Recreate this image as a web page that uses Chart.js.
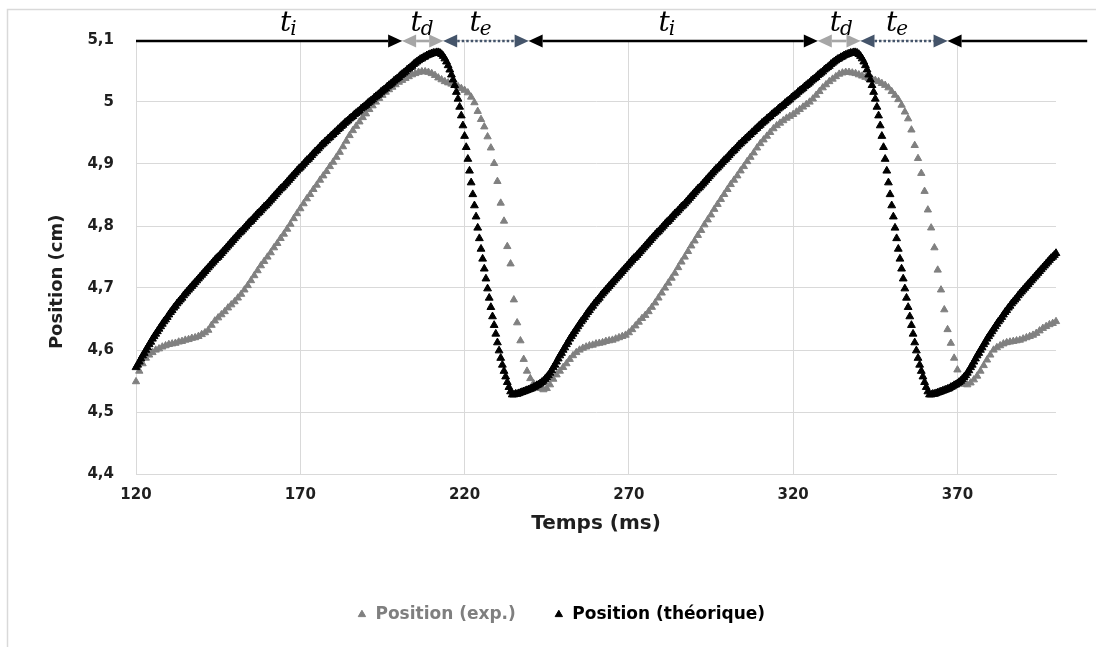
<!DOCTYPE html>
<html>
<head>
<meta charset="utf-8">
<title>Position</title>
<script src="https://cdn.jsdelivr.net/npm/chart.js@4/dist/chart.umd.min.js"></script>
<style>
	html, body { margin: 0; padding: 0; background: #fff; overflow: hidden; }
	canvas { display: block; }
</style>
</head>
<body>
<canvas id="posChart" width="1096" height="647"></canvas>
<script>
"use strict";

// axis ticks and titles
const xTicks = [120, 170, 220, 270, 320, 370];
const yTicks = [4.4, 4.5, 4.6, 4.7, 4.8, 4.9, 5.0, 5.1];
const yTickLabels = ["4,4", "4,5", "4,6", "4,7", "4,8", "4,9", "5", "5,1"];
const xTitle = "Temps (ms)";
const yTitle = "Position (cm)";
const seriesNames = ["Position (exp.)", "Position (théorique)"];

// experimental position, one sample per ms from 120 ms
const expStart = 120;
const expStep = 1;
const expPos = [
	4.549, 4.566, 4.578, 4.587, 4.592, 4.596, 4.600, 4.602, 4.605, 4.607,
	4.609, 4.610, 4.611, 4.613, 4.614, 4.616, 4.617, 4.619, 4.620, 4.622,
	4.625, 4.628, 4.632, 4.640, 4.647, 4.652, 4.657, 4.662, 4.668, 4.673,
	4.678, 4.684, 4.690, 4.697, 4.704, 4.712, 4.720, 4.728, 4.736, 4.743,
	4.750, 4.757, 4.765, 4.772, 4.780, 4.787, 4.795, 4.803, 4.812, 4.820,
	4.828, 4.836, 4.844, 4.851, 4.859, 4.866, 4.874, 4.881, 4.888, 4.896,
	4.903, 4.911, 4.919, 4.928, 4.937, 4.946, 4.954, 4.961, 4.968, 4.975,
	4.981, 4.988, 4.994, 5.000, 5.006, 5.011, 5.016, 5.020, 5.024, 5.028,
	5.032, 5.035, 5.038, 5.041, 5.044, 5.046, 5.048, 5.049, 5.049, 5.048,
	5.046, 5.043, 5.039, 5.036, 5.033, 5.031, 5.029, 5.027, 5.025, 5.022,
	5.019, 5.015, 5.008, 4.999, 4.985, 4.972, 4.960, 4.944, 4.926, 4.901,
	4.872, 4.837, 4.808, 4.767, 4.739, 4.681, 4.644, 4.615, 4.585, 4.566,
	4.554, 4.546, 4.541, 4.538, 4.536, 4.538, 4.544, 4.553, 4.560, 4.566,
	4.572, 4.578, 4.585, 4.591, 4.596, 4.600, 4.603, 4.605, 4.607, 4.608,
	4.610, 4.611, 4.612, 4.614, 4.615, 4.616, 4.618, 4.620, 4.622, 4.624,
	4.628, 4.633, 4.639, 4.645, 4.651, 4.656, 4.662, 4.669, 4.676, 4.684,
	4.692, 4.700, 4.708, 4.716, 4.724, 4.733, 4.742, 4.750, 4.759, 4.768,
	4.776, 4.785, 4.793, 4.802, 4.810, 4.818, 4.827, 4.835, 4.843, 4.851,
	4.859, 4.867, 4.874, 4.881, 4.889, 4.896, 4.904, 4.911, 4.918, 4.926,
	4.933, 4.939, 4.945, 4.951, 4.957, 4.962, 4.966, 4.970, 4.974, 4.977,
	4.980, 4.984, 4.988, 4.992, 4.996, 5.000, 5.005, 5.011, 5.017, 5.023,
	5.028, 5.033, 5.037, 5.041, 5.045, 5.047, 5.048, 5.048, 5.047, 5.046,
	5.044, 5.042, 5.040, 5.038, 5.037, 5.035, 5.033, 5.030, 5.027, 5.023,
	5.017, 5.011, 5.004, 4.995, 4.984, 4.973, 4.955, 4.930, 4.909, 4.885,
	4.856, 4.826, 4.797, 4.765, 4.729, 4.697, 4.665, 4.633, 4.611, 4.587,
	4.568, 4.550, 4.545, 4.544, 4.547, 4.552, 4.558, 4.566, 4.575, 4.584,
	4.592, 4.600, 4.604, 4.607, 4.610, 4.612, 4.613, 4.614, 4.615, 4.616,
	4.618, 4.620, 4.622, 4.624, 4.627, 4.631, 4.635, 4.638, 4.641, 4.643,
	4.646
];

// theoretical position, one sample per 0.5 ms from 120 ms
const theoStart = 120;
const theoStep = 0.5;
const theoPos = [
	4.572, 4.576, 4.581, 4.586, 4.591, 4.595, 4.600, 4.604, 4.609, 4.613,
	4.618, 4.622, 4.626, 4.630, 4.634, 4.638, 4.642, 4.646, 4.649, 4.653,
	4.657, 4.661, 4.664, 4.668, 4.671, 4.675, 4.678, 4.681, 4.684, 4.688,
	4.691, 4.694, 4.697, 4.700, 4.703, 4.706, 4.709, 4.712, 4.715, 4.718,
	4.721, 4.724, 4.727, 4.730, 4.733, 4.736, 4.739, 4.742, 4.745, 4.748,
	4.750, 4.753, 4.756, 4.759, 4.762, 4.765, 4.768, 4.771, 4.774, 4.777,
	4.780, 4.783, 4.786, 4.789, 4.791, 4.794, 4.797, 4.800, 4.803, 4.806,
	4.808, 4.811, 4.814, 4.817, 4.820, 4.822, 4.825, 4.828, 4.831, 4.833,
	4.836, 4.839, 4.842, 4.845, 4.848, 4.851, 4.854, 4.857, 4.860, 4.862,
	4.865, 4.868, 4.871, 4.874, 4.877, 4.880, 4.883, 4.886, 4.889, 4.892,
	4.894, 4.897, 4.900, 4.903, 4.906, 4.908, 4.911, 4.914, 4.917, 4.920,
	4.922, 4.925, 4.928, 4.931, 4.933, 4.936, 4.938, 4.941, 4.943, 4.946,
	4.948, 4.951, 4.953, 4.956, 4.958, 4.961, 4.963, 4.966, 4.968, 4.970,
	4.973, 4.975, 4.977, 4.980, 4.982, 4.984, 4.986, 4.989, 4.991, 4.993,
	4.995, 4.998, 5.000, 5.002, 5.004, 5.007, 5.009, 5.011, 5.013, 5.016,
	5.018, 5.020, 5.022, 5.025, 5.027, 5.029, 5.031, 5.034, 5.036, 5.038,
	5.040, 5.043, 5.045, 5.047, 5.049, 5.052, 5.054, 5.056, 5.058, 5.061,
	5.063, 5.065, 5.067, 5.069, 5.070, 5.072, 5.073, 5.075, 5.076, 5.077,
	5.078, 5.079, 5.079, 5.080, 5.080, 5.079, 5.077, 5.074, 5.070, 5.065,
	5.059, 5.052, 5.044, 5.036, 5.027, 5.016, 5.005, 4.992, 4.978, 4.962,
	4.945, 4.927, 4.908, 4.889, 4.870, 4.851, 4.833, 4.815, 4.797, 4.780,
	4.763, 4.747, 4.731, 4.715, 4.699, 4.684, 4.669, 4.654, 4.640, 4.626,
	4.612, 4.599, 4.587, 4.576, 4.566, 4.557, 4.548, 4.540, 4.533, 4.528,
	4.528, 4.529, 4.529, 4.530, 4.531, 4.532, 4.533, 4.534, 4.535, 4.536,
	4.537, 4.538, 4.540, 4.541, 4.543, 4.544, 4.546, 4.548, 4.550, 4.553,
	4.556, 4.559, 4.563, 4.567, 4.572, 4.576, 4.581, 4.586, 4.591, 4.595,
	4.600, 4.604, 4.609, 4.613, 4.618, 4.622, 4.626, 4.630, 4.634, 4.638,
	4.642, 4.646, 4.649, 4.653, 4.657, 4.661, 4.664, 4.668, 4.671, 4.675,
	4.678, 4.681, 4.684, 4.688, 4.691, 4.694, 4.697, 4.700, 4.703, 4.706,
	4.709, 4.712, 4.715, 4.718, 4.721, 4.724, 4.727, 4.730, 4.733, 4.736,
	4.739, 4.742, 4.745, 4.748, 4.750, 4.753, 4.756, 4.759, 4.762, 4.765,
	4.768, 4.771, 4.774, 4.777, 4.780, 4.783, 4.786, 4.789, 4.791, 4.794,
	4.797, 4.800, 4.803, 4.806, 4.808, 4.811, 4.814, 4.817, 4.820, 4.822,
	4.825, 4.828, 4.831, 4.833, 4.836, 4.839, 4.842, 4.845, 4.848, 4.851,
	4.854, 4.857, 4.860, 4.862, 4.865, 4.868, 4.871, 4.874, 4.877, 4.880,
	4.883, 4.886, 4.889, 4.892, 4.894, 4.897, 4.900, 4.903, 4.906, 4.908,
	4.911, 4.914, 4.917, 4.920, 4.922, 4.925, 4.928, 4.931, 4.933, 4.936,
	4.938, 4.941, 4.943, 4.946, 4.948, 4.951, 4.953, 4.956, 4.958, 4.961,
	4.963, 4.966, 4.968, 4.970, 4.973, 4.975, 4.977, 4.980, 4.982, 4.984,
	4.986, 4.989, 4.991, 4.993, 4.995, 4.998, 5.000, 5.002, 5.004, 5.007,
	5.009, 5.011, 5.013, 5.016, 5.018, 5.020, 5.022, 5.025, 5.027, 5.029,
	5.031, 5.034, 5.036, 5.038, 5.040, 5.043, 5.045, 5.047, 5.049, 5.052,
	5.054, 5.056, 5.058, 5.061, 5.063, 5.065, 5.067, 5.069, 5.070, 5.072,
	5.073, 5.075, 5.076, 5.077, 5.078, 5.079, 5.079, 5.080, 5.080, 5.079,
	5.077, 5.074, 5.070, 5.065, 5.059, 5.052, 5.044, 5.036, 5.027, 5.016,
	5.005, 4.992, 4.978, 4.962, 4.945, 4.927, 4.908, 4.889, 4.870, 4.851,
	4.833, 4.815, 4.797, 4.780, 4.763, 4.747, 4.731, 4.715, 4.699, 4.684,
	4.669, 4.654, 4.640, 4.626, 4.612, 4.599, 4.587, 4.576, 4.566, 4.557,
	4.548, 4.540, 4.533, 4.528,
	4.528, 4.529, 4.529, 4.530, 4.531, 4.532, 4.533, 4.534, 4.535, 4.536,
	4.537, 4.538, 4.540, 4.541, 4.543, 4.544, 4.546, 4.548, 4.550, 4.553,
	4.556, 4.559, 4.563, 4.567, 4.572, 4.576, 4.581, 4.586, 4.591, 4.595,
	4.600, 4.604, 4.609, 4.613, 4.618, 4.622, 4.626, 4.630, 4.634, 4.638,
	4.642, 4.646, 4.649, 4.653, 4.657, 4.661, 4.664, 4.668, 4.671, 4.675,
	4.678, 4.681, 4.684, 4.688, 4.691, 4.694, 4.697, 4.700, 4.703, 4.706,
	4.709, 4.712, 4.715, 4.718, 4.721, 4.724, 4.727, 4.730, 4.733, 4.736,
	4.739, 4.742, 4.745, 4.748, 4.750, 4.753, 4.756
];

// time spans marked above the plot (ms): t_i, t_d, t_e ...
const spanEdges = [120, 201, 213.5, 239.5, 327.5, 340.5, 367, 409.5];
const spanKinds = ["i", "d", "e", "i", "d", "e", "i"];
const spanLabelX = [166.5, 207.2, 225, 281.7, 334.8, 351.8];
const spanLabelSub = ["i", "d", "e", "i", "d", "e"];
const spanLevel = 5.1;

const FONT = "'DejaVu Sans', sans-serif";
const MATH = "'DejaVu Serif', serif";
const GRID = "#d9d9d9";
const TEXT = "#1f1f1f";
const PLOT_BOTTOM = 474;
const PAD = { left: 26, right: 0, top: 40, bottom: 14 };

const spanStyle = {
	i: { color: "#000000", dash: [] },
	d: { color: "#a6a6a6", dash: [] },
	e: { color: "#44546a", dash: [2.5, 2] }
};

function toPoints(start, step, values) {
	return values.map((v, i) => ({ x: start + i * step, y: v }));
}

function drawHead(ctx, tipX, y, dir, color) {
	ctx.beginPath();
	ctx.moveTo(tipX, y);
	ctx.lineTo(tipX - dir * 14, y - 6.5);
	ctx.lineTo(tipX - dir * 14, y + 6.5);
	ctx.closePath();
	ctx.fillStyle = color;
	ctx.fill();
}

const spanPlugin = {
	id: "spans",
	afterDatasetsDraw(chart) {
		const { ctx } = chart;
		const xs = chart.scales.x;
		const y = chart.scales.y.getPixelForValue(spanLevel) + 1;
		ctx.save();
		for (let k = 0; k < spanKinds.length; k++) {
			const st = spanStyle[spanKinds[k]];
			const a = xs.getPixelForValue(spanEdges[k]);
			const b = xs.getPixelForValue(spanEdges[k + 1]);
			const headStart = k > 0;
			const headEnd = k < spanKinds.length - 1;
			ctx.beginPath();
			ctx.setLineDash(st.dash);
			ctx.lineWidth = 2.6;
			ctx.strokeStyle = st.color;
			ctx.moveTo(headStart ? a + 14 : a, y);
			ctx.lineTo(headEnd ? b - 14 : b, y);
			ctx.stroke();
			ctx.setLineDash([]);
			if (headStart) drawHead(ctx, a, y, -1, st.color);
			if (headEnd) drawHead(ctx, b, y, 1, st.color);
		}
		// labels t_i, t_d, t_e
		ctx.fillStyle = "#000";
		ctx.textBaseline = "alphabetic";
		ctx.textAlign = "left";
		for (let k = 0; k < spanLabelX.length; k++) {
			const cx = xs.getPixelForValue(spanLabelX[k]);
			ctx.font = "italic 28px " + MATH;
			const wT = ctx.measureText("t").width;
			ctx.font = "italic 20px " + MATH;
			const wS = ctx.measureText(spanLabelSub[k]).width;
			const left = cx - (wT + wS) / 2;
			ctx.font = "italic 28px " + MATH;
			ctx.fillText("t", left, y - 10);
			ctx.font = "italic 20px " + MATH;
			ctx.fillText(spanLabelSub[k], left + wT - 1, y - 6);
		}
		ctx.restore();
	}
};

// outer frame, plus the y title which sits a little below the plot middle
const framePlugin = {
	id: "frame",
	beforeDraw(chart) {
		const { ctx, width, height } = chart;
		ctx.save();
		ctx.fillStyle = "#fff";
		ctx.fillRect(0, 0, width, height);
		ctx.strokeStyle = GRID;
		ctx.lineWidth = 1.5;
		ctx.beginPath();
		ctx.moveTo(width + 2, 9.5);
		ctx.lineTo(7.5, 9.5);
		ctx.lineTo(7.5, height + 2);
		ctx.stroke();
		ctx.restore();
	},
	afterDraw(chart) {
		const { ctx } = chart;
		const ys = chart.scales.y;
		ctx.save();
		ctx.translate(57, ys.getPixelForValue(4.71));
		ctx.rotate(-Math.PI / 2);
		ctx.font = "bold 18px " + FONT;
		ctx.fillStyle = TEXT;
		ctx.textAlign = "center";
		ctx.textBaseline = "middle";
		ctx.fillText(yTitle, 0, 0);
		ctx.restore();
	}
};

const legendColors = ["#000000", "#7f7f7f"];

const ctx = document.getElementById("posChart").getContext("2d");
const posChart = new Chart(ctx, {
	type: "scatter",
	data: {
		datasets: [
			{
				label: seriesNames[1],
				data: toPoints(theoStart, theoStep, theoPos),
				pointStyle: "triangle",
				pointRadius: 4.5,
				borderWidth: 1,
				backgroundColor: "#000000",
				borderColor: "#000000",
				showLine: false,
				clip: false
			},
			{
				label: seriesNames[0],
				data: toPoints(expStart, expStep, expPos),
				pointStyle: "triangle",
				pointRadius: 4.2,
				borderWidth: 1,
				backgroundColor: "#808080",
				borderColor: "#808080",
				showLine: false,
				clip: false
			}
		]
	},
	options: {
		responsive: false,
		animation: false,
		devicePixelRatio: 1,
		layout: { padding: PAD },
		plugins: {
			tooltip: { enabled: false },
			legend: {
				position: "bottom",
				reverse: true,
				labels: {
					usePointStyle: true,
					boxWidth: 10,
					boxHeight: 6,
					padding: 38,
					font: { family: FONT, size: 17, weight: "bold" },
					generateLabels(chart) {
						const items = Chart.defaults.plugins.legend.labels.generateLabels(chart);
						items.forEach(it => { it.fontColor = legendColors[it.datasetIndex]; });
						return items;
					}
				}
			}
		},
		scales: {
			x: {
				type: "linear",
				min: 120,
				max: 400,
				afterBuildTicks(scale) {
					scale.ticks = xTicks.map(v => ({ value: v }));
				},
				afterFit(scale) {
					scale.height = scale.chart.height - PLOT_BOTTOM - scale.chart.legend.height - PAD.bottom;
				},
				ticks: {
					padding: 12,
					color: TEXT,
					font: { family: FONT, size: 15, weight: "bold" }
				},
				grid: { color: GRID, lineWidth: 1, drawTicks: false },
				border: { color: GRID },
				title: {
					display: true,
					text: xTitle,
					color: TEXT,
					font: { family: FONT, size: 20, weight: "bold" },
					padding: { top: 4, bottom: 32 }
				}
			},
			y: {
				type: "linear",
				min: 4.4,
				max: 5.1,
				afterBuildTicks(scale) {
					scale.ticks = yTicks.map(v => ({ value: v }));
				},
				afterFit(scale) {
					scale.width = 136 - PAD.left;
				},
				ticks: {
					padding: 22,
					color: TEXT,
					font: { family: FONT, size: 15, weight: "bold" },
					callback: (value, index) => yTickLabels[index]
				},
				grid: { color: GRID, lineWidth: 1, drawTicks: false },
				border: { color: GRID },
				title: { display: false }
			},
			yR: {
				type: "linear",
				position: "right",
				display: true,
				grid: { display: false },
				border: { display: false },
				ticks: { display: false },
				afterFit(scale) {
					scale.width = 40;
				}
			}
		}
	},
	plugins: [framePlugin, spanPlugin]
});
</script>
</body>
</html>
